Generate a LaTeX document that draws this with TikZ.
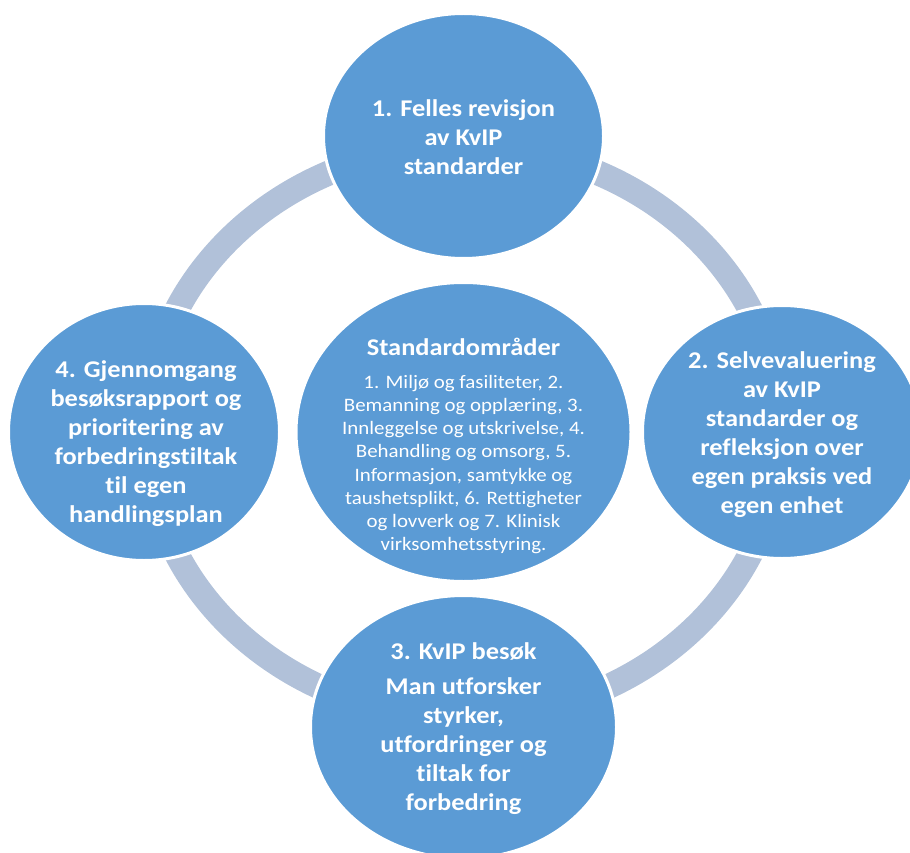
\documentclass[tikz,border=0pt]{standalone}
\usepackage{fontspec}
\setmainfont[FakeStretch=1.1, Ligatures=NoCommon]{Carlito}
\usetikzlibrary{shapes.geometric}
\definecolor{bubblefill}{HTML}{5B9BD5}
\definecolor{ringcol}{RGB}{177,193,217}
\tikzset{
  bubble/.style={ellipse, fill=bubblefill, draw=white, line width=3pt, inner sep=0pt},
  headtext/.style={text=white, align=center, inner sep=0pt, font=\bfseries\fontsize{24}{29}\selectfont},
  bodytext/.style={text=white, align=center, inner sep=0pt, font=\fontsize{19}{23.2}\selectfont},
  ringline/.style={draw=ringcol, line width=25pt},
}
\begin{document}
\begin{tikzpicture}[x=1pt,y=-1pt]
\useasboundingbox (0,0) rectangle (910,853);
% cycle ring
\draw[ringline] (463.5,432) ellipse [x radius=317, y radius=286];
% bubbles
\node[bubble, minimum width=280pt, minimum height=245pt] (n1) at (463.5,136) {};
\node[bubble, minimum width=279pt, minimum height=253pt] (n2) at (782,432) {};
\node[bubble, minimum width=306pt, minimum height=263pt] (n3) at (463.5,727) {};
\node[bubble, minimum width=271pt, minimum height=257pt] (n4) at (144,432) {};
\node[bubble, minimum width=335pt, minimum height=299pt] (n5) at (463.5,432) {};
% texts
\node[headtext] (t1) at (463.5,137) {1. Felles revisjon\\av KvIP\\standarder};
\node[headtext] (t2) at (782,435) {2. Selvevaluering\\av KvIP\\standarder og\\refleksjon over\\egen praksis ved\\egen enhet};
\node[headtext] (t3) at (463.5,729) {3. KvIP besøk\\[6pt]Man utforsker\\styrker,\\utfordringer og\\tiltak for\\forbedring};
\node[headtext] (t4) at (146,444) {4. Gjennomgang\\besøksrapport og\\prioritering av\\forbedringstiltak\\til egen\\handlingsplan};
\node[bodytext] (t5) at (463.5,446) {{\bfseries\fontsize{24}{29}\selectfont Standardområder}\\[9.5pt]1. Miljø og fasiliteter, 2.\\Bemanning og opplæring, 3.\\Innleggelse og utskrivelse, 4.\\Behandling og omsorg, 5.\\Informasjon, samtykke og\\taushetsplikt, 6. Rettigheter\\og lovverk og 7. Klinisk\\virksomhetsstyring.};
\end{tikzpicture}
\end{document}
